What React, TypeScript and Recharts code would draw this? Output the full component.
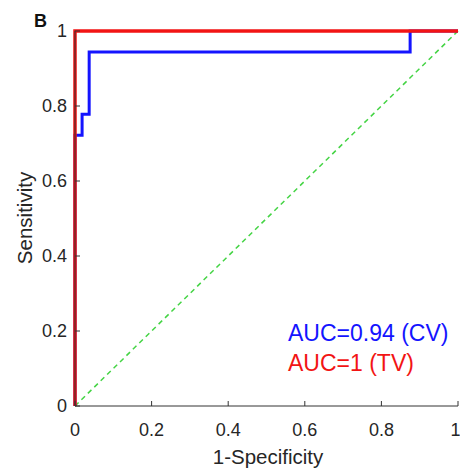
import { LineChart, Line, XAxis, YAxis } from "recharts";

// ROC curves (1-specificity vs sensitivity)
const cvFpr = [0, 0, 0.0185, 0.037, 0.875, 1];
const cvTpr = [0, 0.722, 0.778, 0.944, 1, 1];
const tvFpr = [0, 0, 1];
const tvTpr = [0, 1, 1];
const chanceFpr = [0, 1];
const chanceTpr = [0, 1];
const axisTicks = [0, 0.2, 0.4, 0.6, 0.8, 1];

const toPoints = (xs: number[], ys: number[]) => xs.map((x, i) => ({ x, y: ys[i] }));

const cvData = toPoints(cvFpr, cvTpr);
const tvData = toPoints(tvFpr, tvTpr);
const chanceData = toPoints(chanceFpr, chanceTpr);

const font = "'Liberation Sans', Arial, sans-serif";
const tickStyle = { fontSize: 18, fill: "#262626", fontFamily: font };
const boxStroke = "#333333";

export default function App() {
  return (
    <div style={{ position: "relative", width: 460, height: 471, background: "#fff", fontFamily: font }}>
      <style>{"body{margin:0}"}</style>
      <LineChart width={460} height={471} margin={{ top: 31, right: 2, left: 15, bottom: 35 }}>
        <XAxis
          dataKey="x"
          type="number"
          domain={[0, 1]}
          ticks={axisTicks}
          tickSize={-5}
          tickMargin={22}
          height={30}
          tick={tickStyle}
          axisLine={{ stroke: boxStroke }}
          tickLine={{ stroke: boxStroke }}
        />
        <XAxis
          xAxisId="top"
          orientation="top"
          type="number"
          domain={[0, 1]}
          ticks={axisTicks}
          tickSize={-5}
          height={0}
          tickFormatter={() => ""}
          axisLine={{ stroke: boxStroke }}
          tickLine={{ stroke: boxStroke }}
        />
        <YAxis
          type="number"
          domain={[0, 1]}
          ticks={axisTicks}
          tickSize={-5}
          tickMargin={13}
          width={60}
          tick={tickStyle}
          axisLine={{ stroke: boxStroke }}
          tickLine={{ stroke: boxStroke }}
        />
        <YAxis
          yAxisId="right"
          orientation="right"
          type="number"
          domain={[0, 1]}
          ticks={axisTicks}
          tickSize={-5}
          width={0}
          tickFormatter={() => ""}
          axisLine={{ stroke: boxStroke }}
          tickLine={{ stroke: boxStroke }}
        />
        <Line
          data={chanceData}
          dataKey="y"
          type="linear"
          stroke="#44d444"
          strokeWidth={1.5}
          strokeDasharray="5 4"
          dot={false}
          isAnimationActive={false}
        />
        <Line
          data={cvData}
          dataKey="y"
          type="stepAfter"
          stroke="#1414ff"
          strokeWidth={3}
          dot={false}
          isAnimationActive={false}
        />
        <Line
          data={tvData}
          dataKey="y"
          type="stepAfter"
          stroke="#f21414"
          strokeWidth={3.5}
          dot={false}
          isAnimationActive={false}
        />
      </LineChart>

      <div style={{ position: "absolute", left: 34, top: 11.8, fontSize: 18, fontWeight: "bold", lineHeight: 1, color: "#111" }}>
        B
      </div>
      <div
        style={{
          position: "absolute",
          left: 268,
          top: 446.7,
          transform: "translateX(-50%)",
          fontSize: 20.5,
          lineHeight: 1,
          color: "#262626",
          whiteSpace: "nowrap",
        }}
      >
        1-Specificity
      </div>
      <div
        style={{
          position: "absolute",
          left: 25,
          top: 218,
          transform: "translate(-50%, -50%) rotate(-90deg)",
          fontSize: 20.5,
          lineHeight: 1,
          color: "#262626",
          whiteSpace: "nowrap",
        }}
      >
        Sensitivity
      </div>
      <div style={{ position: "absolute", left: 288, top: 321.5, fontSize: 23, lineHeight: 1, color: "#1414ff", whiteSpace: "nowrap" }}>
        AUC=0.94 (CV)
      </div>
      <div style={{ position: "absolute", left: 288, top: 351.5, fontSize: 23, lineHeight: 1, color: "#f21414", whiteSpace: "nowrap" }}>
        AUC=1 (TV)
      </div>
    </div>
  );
}
